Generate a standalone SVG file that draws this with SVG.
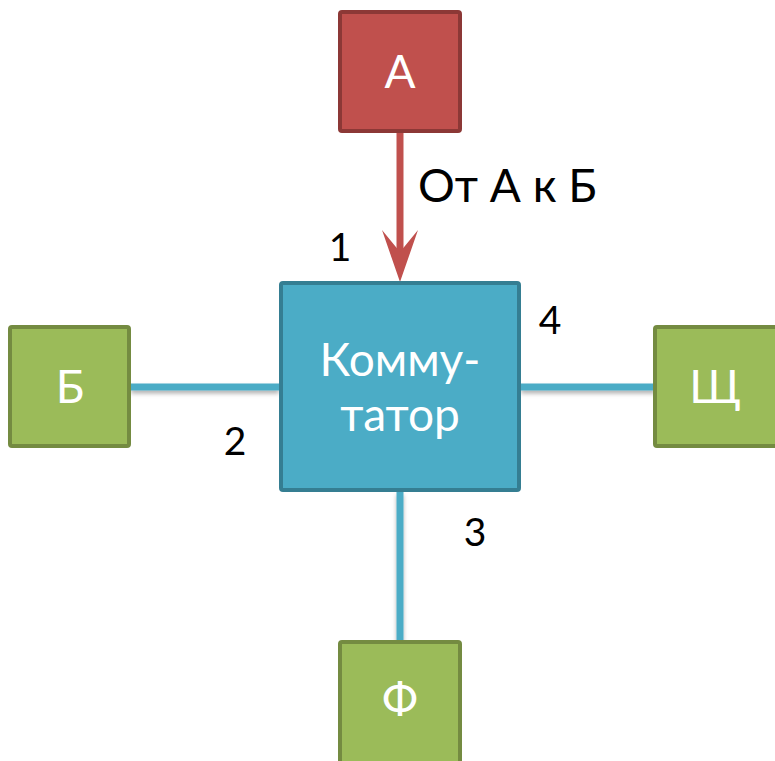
<svg xmlns="http://www.w3.org/2000/svg" width="775" height="761" viewBox="0 0 775 761">
  <style>
    .red { fill: #c0504d; stroke: #8c3836; stroke-width: 4; }
    .green { fill: #9bbb59; stroke: #748b41; stroke-width: 4; }
    .blue { fill: #4bacc6; stroke: #357e92; stroke-width: 4; }
    .wtxt { fill: #ffffff; font-family: Lato, "Liberation Sans", sans-serif; font-size: 46px; text-anchor: middle; }
    .btxt { fill: #000000; font-family: Lato, "Liberation Sans", sans-serif; font-size: 46px; }
    .num { fill: #000000; font-family: Lato, "Liberation Sans", sans-serif; font-size: 39px; text-anchor: middle; }
    .link { stroke: #4bacc6; stroke-width: 7; fill: none; }
  </style>
  <defs>
    <filter id="shadow" filterUnits="userSpaceOnUse" x="0" y="0" width="775" height="761">
      <feDropShadow dx="0" dy="3" stdDeviation="2" flood-color="#000000" flood-opacity="0.3"/>
    </filter>
  </defs>

  <!-- connectors -->
  <g id="connectors">
    <line class="link" x1="131" y1="387" x2="279" y2="387" filter="url(#shadow)"/>
    <line class="link" x1="521" y1="387" x2="655" y2="387" filter="url(#shadow)"/>
    <line class="link" x1="400" y1="492" x2="400" y2="642" filter="url(#shadow)"/>
    <g id="arrow-a-switch">
      <line x1="400" y1="133" x2="400" y2="256" stroke="#c0504d" stroke-width="7"/>
      <path d="M400,282 L382,230 L400,252 L418,230 Z" fill="#c0504d"/>
    </g>
  </g>

  <g id="node-a">
    <rect class="red" x="340" y="12" width="120" height="119" rx="2"/>
    <text class="wtxt" x="400" y="88">А</text>
  </g>

  <g id="node-switch">
    <rect class="blue" x="281" y="283" width="238" height="207" rx="2"/>
    <text class="wtxt" x="400" y="376">Комму-</text>
    <text class="wtxt" x="400" y="431">татор</text>
  </g>

  <g id="node-b">
    <rect class="green" x="10" y="327" width="119" height="119" rx="2"/>
    <text class="wtxt" x="70" y="403">Б</text>
  </g>

  <g id="node-shch">
    <rect class="green" x="655" y="327" width="122" height="119" rx="2"/>
    <text class="wtxt" x="715" y="403">Щ</text>
  </g>

  <g id="node-f">
    <rect class="green" x="340" y="642" width="120" height="121" rx="2"/>
    <text class="wtxt" x="400" y="716" font-size="40">Ф</text>
  </g>

  <!-- labels -->
  <text class="btxt" x="418" y="202">От А к Б</text>
  <text class="num" x="340" y="261">1</text>
  <text class="num" x="235" y="455">2</text>
  <text class="num" x="475" y="546">3</text>
  <text class="num" x="550" y="334">4</text>
</svg>
